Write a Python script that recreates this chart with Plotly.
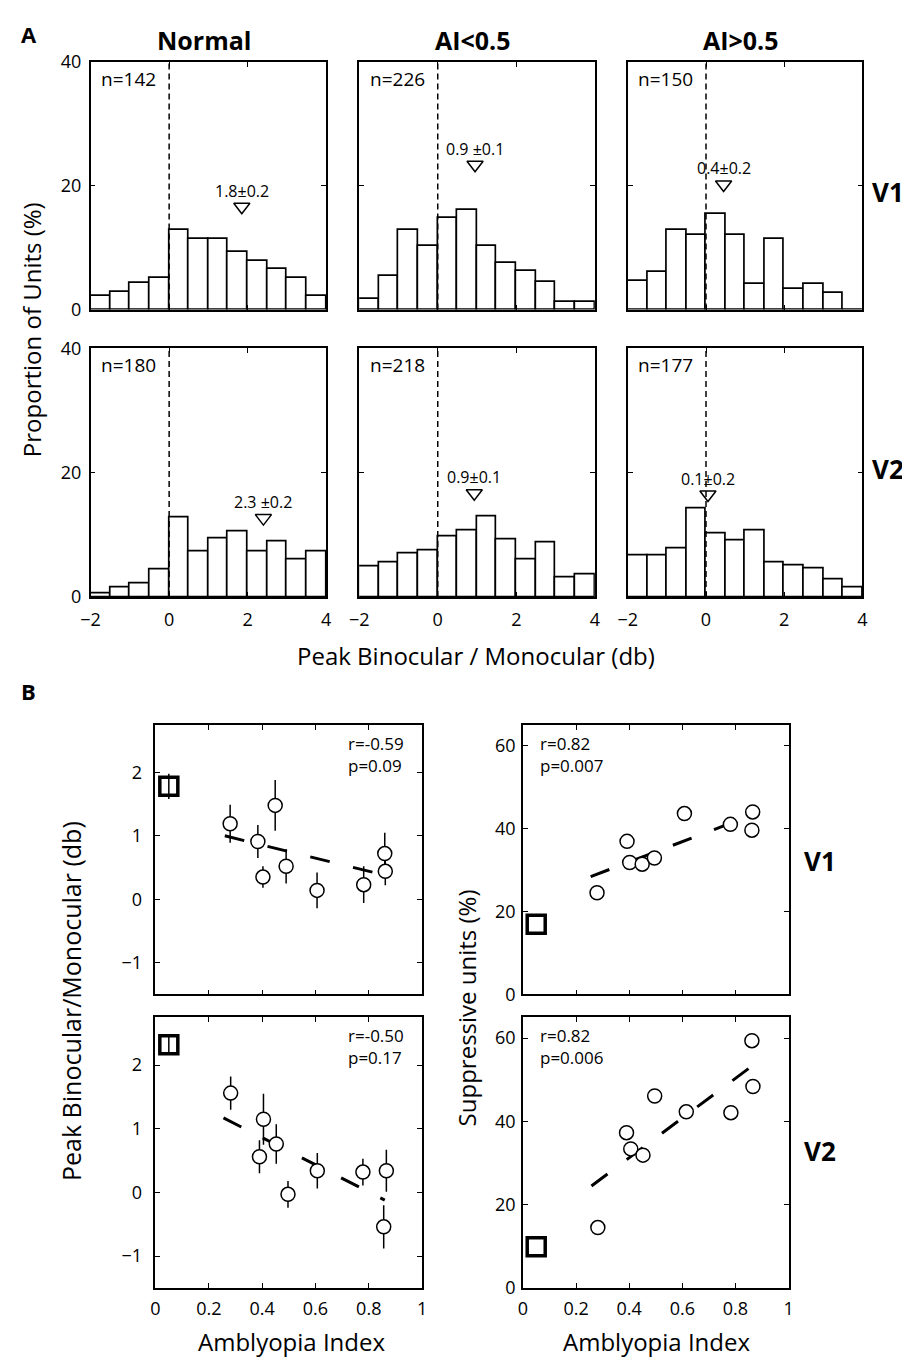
import plotly.graph_objects as go

W, H = 910, 1362
FONT = "Open Sans"

# ---------------- Panel A data ----------------
bin_centers = [-1.75, -1.25, -0.75, -0.25, 0.25, 0.75, 1.25, 1.75, 2.25, 2.75, 3.25, 3.75]
hist_normal_v1 = [2.15, 2.85, 4.3, 5.1, 12.85, 11.4, 11.4, 9.3, 7.9, 6.5, 5.1, 2.15]
hist_lo_v1 = [1.75, 5.35, 12.9, 10.2, 14.75, 16.1, 10.2, 7.5, 6.2, 4.4, 1.2, 1.2]
hist_hi_v1 = [4.7, 6.0, 12.8, 12.1, 15.5, 12.1, 4.1, 11.4, 3.4, 4.1, 2.7, 0.0]
hist_normal_v2 = [0.55, 1.6, 2.15, 4.45, 12.8, 7.3, 9.5, 10.6, 7.3, 8.9, 6.1, 7.3]
hist_lo_v2 = [5.0, 5.55, 6.95, 7.45, 9.7, 10.65, 12.9, 9.25, 6.0, 8.8, 3.15, 3.7]
hist_hi_v2 = [6.7, 6.7, 7.85, 14.2, 10.2, 9.05, 10.75, 5.6, 5.1, 4.55, 2.8, 1.6]

group_titles = ["Normal", "AI<0.5", "AI>0.5"]
n_v1 = ["n=142", "n=226", "n=150"]
n_v2 = ["n=180", "n=218", "n=177"]
mean_x_v1 = [1.85, 0.95, 0.45]
mean_y_v1 = [16.6, 23.4, 20.2]
mean_lbl_v1 = ["1.8±0.2", "0.9 ±0.1", "0.4±0.2"]
mean_x_v2 = [2.4, 0.93, 0.05]
mean_y_v2 = [12.7, 16.7, 16.5]
mean_lbl_v2 = ["2.3 ±0.2", "0.9±0.1", "0.1±0.2"]

hist_ticks_x = [-2, 0, 2, 4]
hist_ticks_y = [0, 20, 40]

# ---------------- Panel B data ----------------
normal_ai = [0.05]
normal_ratio_v1 = [1.78]
normal_ratio_v1_err = [0.2]
normal_ratio_v2 = [2.32]
normal_ratio_v2_err = [0.15]
normal_supp_v1 = [16.9]
normal_supp_v2 = [9.9]

ai_ratio_v1 = [0.28, 0.384, 0.403, 0.449, 0.49, 0.606, 0.781, 0.86, 0.862]
ratio_v1 = [1.19, 0.91, 0.35, 1.48, 0.52, 0.14, 0.23, 0.72, 0.44]
ratio_v1_err = [0.3, 0.26, 0.17, 0.4, 0.27, 0.28, 0.29, 0.33, 0.22]

ai_ratio_v2 = [0.282, 0.39, 0.405, 0.453, 0.497, 0.607, 0.778, 0.866, 0.856]
ratio_v2 = [1.56, 0.56, 1.15, 0.76, -0.03, 0.34, 0.32, 0.34, -0.54]
ratio_v2_err = [0.26, 0.26, 0.4, 0.31, 0.21, 0.28, 0.21, 0.33, 0.34]

ai_supp_v1 = [0.279, 0.392, 0.402, 0.449, 0.495, 0.608, 0.781, 0.865, 0.862]
supp_v1 = [24.5, 36.9, 31.8, 31.4, 32.9, 43.6, 41.0, 44.0, 39.6]

ai_supp_v2 = [0.282, 0.39, 0.406, 0.452, 0.496, 0.615, 0.783, 0.862, 0.866]
supp_v2 = [14.5, 37.3, 33.4, 31.9, 46.1, 42.3, 42.1, 59.4, 48.4]

fit_ratio_v1_x = [0.26, 0.86]
fit_ratio_v1_y = [1.0, 0.38]
fit_ratio_v2_x = [0.255, 0.86]
fit_ratio_v2_y = [1.17, -0.12]
fit_supp_v1_x = [0.255, 0.865]
fit_supp_v1_y = [28.4, 43.3]
fit_supp_v2_x = [0.258, 0.862]
fit_supp_v2_y = [24.5, 53.3]

stats_ratio_v1 = "r=-0.59<br>p=0.09"
stats_ratio_v2 = "r=-0.50<br>p=0.17"
stats_supp_v1 = "r=0.82<br>p=0.007"
stats_supp_v2 = "r=0.82<br>p=0.006"

scatter_ticks_x = [0, 0.2, 0.4, 0.6, 0.8, 1]
scatter_ticklabels_x = ["0", "0.2", "0.4", "0.6", "0.8", "1"]
ratio_ticks = [-1, 0, 1, 2]
supp_ticks = [0, 20, 40, 60]

# page-to-figure pixel mapping (screenshot offset/scale compensation)
OX, SX = 16.3, 0.985
OY, SY = 19.0, 0.984


def fx_(x):
    return (x - OX) / SX


def fy_(y):
    return (y - OY) / SY


def dx(x0, x1):
    return [fx_(x0) / W, fx_(x1) / W]


def dy(y0, y1):
    return [1 - fy_(y1) / H, 1 - fy_(y0) / H]


def px(x):
    return fx_(x) / W


def py(y):
    return 1 - fy_(y) / H


fig = go.Figure()
layout = {}
annotations = []

axis_common = dict(
    showline=True, linecolor="black", linewidth=1.5, mirror="ticks",
    ticks="inside", ticklen=5, tickwidth=1.2, tickcolor="black",
    showgrid=False, zeroline=False,
    tickfont=dict(family=FONT, size=18, color="black"),
)

hist_cols = [(89, 325), (358, 594), (627, 862)]
hist_rows = [(60, 308), (347, 596)]
hist_data = [[hist_normal_v1, hist_lo_v1, hist_hi_v1],
             [hist_normal_v2, hist_lo_v2, hist_hi_v2]]
n_lbls = [n_v1, n_v2]
mx = [mean_x_v1, mean_x_v2]
my = [mean_y_v1, mean_y_v2]
ml = [mean_lbl_v1, mean_lbl_v2]

k = 0
for r in range(2):
    for c in range(3):
        k += 1
        xa = "x" if k == 1 else f"x{k}"
        ya = "y" if k == 1 else f"y{k}"
        layout[f"xaxis{k}"] = dict(
            axis_common, domain=dx(*hist_cols[c]), range=[-2, 4], anchor=ya,
            tickvals=hist_ticks_x, showticklabels=(r == 1), ticklabelstandoff=6,
        )
        layout[f"yaxis{k}"] = dict(
            axis_common, domain=dy(*hist_rows[r]), range=[0, 40], anchor=xa,
            tickvals=hist_ticks_y, showticklabels=(c == 0), ticklabelstandoff=4,
        )
        fig.add_trace(go.Bar(
            x=bin_centers, y=hist_data[r][c], width=0.5, xaxis=xa, yaxis=ya,
            marker=dict(color="white", line=dict(color="black", width=1.7)),
            showlegend=False,
        ))
        fig.add_trace(go.Scatter(
            x=[0, 0], y=[0, 40], mode="lines", xaxis=xa, yaxis=ya,
            line=dict(color="black", width=1.5, dash="6px,4px"), showlegend=False,
        ))
        fig.add_trace(go.Scatter(
            x=[mx[r][c]], y=[my[r][c]], mode="markers", xaxis=xa, yaxis=ya,
            marker=dict(symbol="triangle-down-open", size=14, color="black",
                        line=dict(width=1.5, color="black")),
            showlegend=False,
        ))
        annotations.append(dict(
            x=mx[r][c], y=my[r][c], xref=xa, yref=ya, text=ml[r][c],
            showarrow=False, yanchor="bottom", xanchor="center", yshift=3,
            font=dict(family=FONT, size=16, color="black"),
        ))
        annotations.append(dict(
            x=-1.78, y=37.3, xref=xa, yref=ya, text=n_lbls[r][c],
            showarrow=False, xanchor="left", yanchor="middle",
            font=dict(family=FONT, size=19, color="black"),
        ))

# column titles
title_x = [203, 472, 740]
for c in range(3):
    annotations.append(dict(
        x=px(title_x[c]), y=py(38), xref="paper", yref="paper", text=f"<b>{group_titles[c]}</b>",
        showarrow=False, xanchor="center", yanchor="middle",
        font=dict(family=FONT, size=25, color="black"),
    ))

# ---------------- Panel B ----------------
sc_left = (154, 421)
sc_right = (522, 788)
sc_top = (724, 994)
sc_bot = (1017, 1288)

panels = [
    (7, sc_left, sc_top, [-1.5, 2.75], ratio_ticks, False, 8),
    (8, sc_right, sc_top, [0, 65], supp_ticks, False, 2),
    (9, sc_left, sc_bot, [-1.5, 2.75], ratio_ticks, True, 8),
    (10, sc_right, sc_bot, [0, 65], supp_ticks, True, 2),
]
for idx, xp, yp, yr, yt, showx, ystand in panels:
    layout[f"xaxis{idx}"] = dict(
        axis_common, domain=dx(*xp), range=[0, 1], anchor=f"y{idx}",
        tickvals=scatter_ticks_x, ticktext=scatter_ticklabels_x, showticklabels=showx,
        ticklabelstandoff=4,
    )
    layout[f"yaxis{idx}"] = dict(
        axis_common, domain=dy(*yp), range=yr, anchor=f"x{idx}", tickvals=yt,
        ticklabelstandoff=ystand,
    )

circle_marker = dict(symbol="circle", size=14, color="white", line=dict(color="black", width=1.5))
err_style = dict(type="data", color="black", thickness=1.5, width=0)
fit_line = dict(color="black", width=3, dash="20px,24px")
square_marker = dict(symbol="square-open", size=18, color="black", line=dict(color="black", width=3.5))

scatter_sets = [
    (7, fit_ratio_v1_x, fit_ratio_v1_y, ai_ratio_v1, ratio_v1, ratio_v1_err, normal_ratio_v1, normal_ratio_v1_err),
    (9, fit_ratio_v2_x, fit_ratio_v2_y, ai_ratio_v2, ratio_v2, ratio_v2_err, normal_ratio_v2, normal_ratio_v2_err),
    (8, fit_supp_v1_x, fit_supp_v1_y, ai_supp_v1, supp_v1, None, normal_supp_v1, None),
    (10, fit_supp_v2_x, fit_supp_v2_y, ai_supp_v2, supp_v2, None, normal_supp_v2, None),
]
for idx, fxs, fys, xs, ys, es, ns, nes in scatter_sets:
    xa, ya = f"x{idx}", f"y{idx}"
    fig.add_trace(go.Scatter(x=fxs, y=fys, mode="lines", line=fit_line, xaxis=xa, yaxis=ya, showlegend=False))
    fig.add_trace(go.Scatter(
        x=xs, y=ys, mode="markers", marker=circle_marker, xaxis=xa, yaxis=ya, showlegend=False,
        error_y=(dict(err_style, array=es) if es is not None else None),
    ))
    fig.add_trace(go.Scatter(
        x=normal_ai, y=ns, mode="markers", marker=square_marker, xaxis=xa, yaxis=ya, showlegend=False,
        error_y=(dict(err_style, array=nes) if nes is not None else None),
    ))

# stats text
stat_font = dict(family=FONT, size=17, color="black")
annotations += [
    dict(x=px(405), y=py(729), xref="paper", yref="paper", text=stats_ratio_v1, showarrow=False,
         xanchor="right", yanchor="top", align="left", font=stat_font),
    dict(x=px(405), y=py(1022), xref="paper", yref="paper", text=stats_ratio_v2, showarrow=False,
         xanchor="right", yanchor="top", align="left", font=stat_font),
    dict(x=px(537), y=py(729), xref="paper", yref="paper", text=stats_supp_v1, showarrow=False,
         xanchor="left", yanchor="top", align="left", font=stat_font),
    dict(x=px(537), y=py(1022), xref="paper", yref="paper", text=stats_supp_v2, showarrow=False,
         xanchor="left", yanchor="top", align="left", font=stat_font),
]

big = dict(family=FONT, size=24, color="black")
bold = dict(family=FONT, size=26, color="black")
annotations += [
    dict(x=px(27), y=py(32), xref="paper", yref="paper", text="<b>A</b>", showarrow=False,
         xanchor="center", yanchor="middle", font=dict(family=FONT, size=22, color="black")),
    dict(x=px(27), y=py(690), xref="paper", yref="paper", text="<b>B</b>", showarrow=False,
         xanchor="center", yanchor="middle", font=dict(family=FONT, size=22, color="black")),
    dict(x=px(888), y=py(190), xref="paper", yref="paper", text="<b>V1</b>", showarrow=False,
         xanchor="center", yanchor="middle", font=bold),
    dict(x=px(888), y=py(468), xref="paper", yref="paper", text="<b>V2</b>", showarrow=False,
         xanchor="center", yanchor="middle", font=bold),
    dict(x=px(820), y=py(860), xref="paper", yref="paper", text="<b>V1</b>", showarrow=False,
         xanchor="center", yanchor="middle", font=bold),
    dict(x=px(820), y=py(1151), xref="paper", yref="paper", text="<b>V2</b>", showarrow=False,
         xanchor="center", yanchor="middle", font=bold),
    dict(x=px(30), y=py(328), xref="paper", yref="paper", text="Proportion of Units (%)", showarrow=False,
         textangle=-90, xanchor="center", yanchor="middle", font=big),
    dict(x=px(475), y=py(655), xref="paper", yref="paper", text="Peak Binocular / Monocular (db)",
         showarrow=False, xanchor="center", yanchor="middle", font=big),
    dict(x=px(70), y=py(1001), xref="paper", yref="paper", text="Peak Binocular/Monocular (db)",
         showarrow=False, textangle=-90, xanchor="center", yanchor="middle",
         font=dict(family=FONT, size=25, color="black")),
    dict(x=px(465), y=py(1008), xref="paper", yref="paper", text="Suppressive units (%)",
         showarrow=False, textangle=-90, xanchor="center", yanchor="middle", font=big),
    dict(x=px(290), y=py(1342), xref="paper", yref="paper", text="Amblyopia Index",
         showarrow=False, xanchor="center", yanchor="middle", font=big),
    dict(x=px(656), y=py(1342), xref="paper", yref="paper", text="Amblyopia Index",
         showarrow=False, xanchor="center", yanchor="middle", font=big),
]

fig.update_layout(
    width=W, height=H,
    margin=dict(l=0, r=0, t=0, b=0),
    paper_bgcolor="white", plot_bgcolor="white",
    bargap=0, showlegend=False,
    font=dict(family=FONT, color="black"),
    annotations=annotations,
    **layout,
)

fig.write_html("out.html")
